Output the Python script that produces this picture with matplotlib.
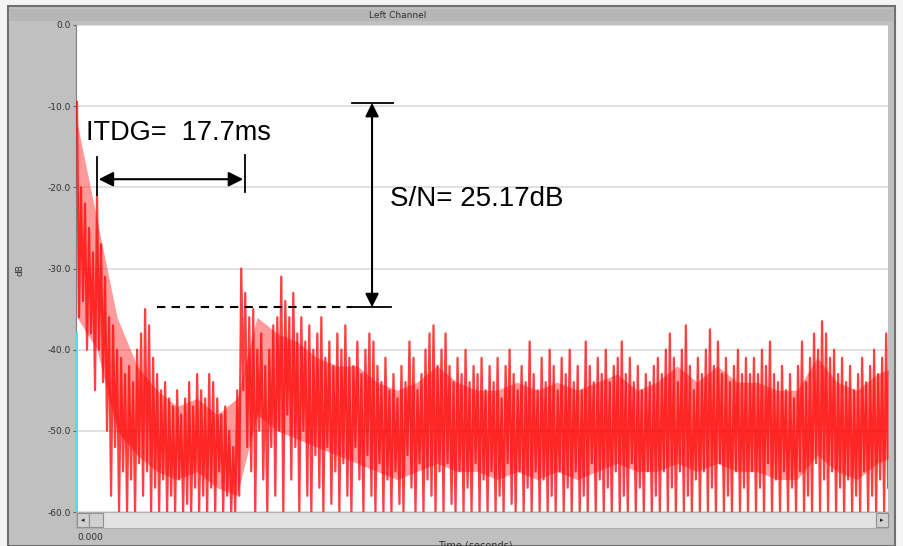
import matplotlib.pyplot as plt
import matplotlib.patches as patches
import numpy as np

# impulse response envelope (dB)
# one peak and one trough per ~0.48 ms step
peak_db = [
    -9.5, -20, -22, -25, -28, -21, -27, -31, -36, -37,
    -40, -41, -43, -42, -44, -40, -38, -35, -37, -41,
    -43, -45, -44, -46, -47, -45, -48, -46, -44, -47,
    -43, -45, -46, -43, -44, -46, -48, -47, -50, -52,
    -45, -30, -33, -36, -35, -40, -38, -42, -40, -37,
    -36, -31, -34, -36, -33, -38, -36, -39, -37, -40,
    -38, -36, -41, -39, -42, -38, -40, -37, -41, -42,
    -39, -43, -40, -38, -39, -42, -44, -41, -45, -43,
    -46, -42, -44, -39, -41, -45, -43, -40, -38, -37,
    -42, -40, -38, -42, -44, -41, -43, -40, -44, -42,
    -43, -41, -45, -42, -44, -41, -46, -42, -40, -43,
    -45, -42, -44, -39, -43, -45, -41, -44, -40, -42,
    -45, -41, -43, -40, -44, -42, -45, -39, -42, -44,
    -41, -43, -40, -44, -42, -41, -39, -43, -41, -44,
    -42, -45, -43, -44, -42, -41, -43, -40, -38, -41,
    -44, -40, -37, -42, -45, -41, -43, -40, -37.5, -42,
    -39, -43, -41, -44, -42, -40, -43, -41, -43, -41,
    -43, -40, -42, -39, -43, -44, -42, -45, -43, -46,
    -42, -39, -44, -41, -38, -40, -36.5, -38, -41, -40,
    -43, -41, -44, -42, -45, -43, -41, -44, -42, -40,
    -43, -41, -38,
]
trough_db = [
    -36, -34, -40, -38, -45, -40, -44, -50, -58, -52,
    -60, -55, -60, -56, -60, -54, -58, -55, -60, -57,
    -60, -56, -60, -58, -60, -56, -60, -59, -60, -57,
    -60, -58, -60, -57, -60, -55, -60, -58, -60, -60,
    -58, -45, -52, -55, -60, -50, -56, -60, -52, -58,
    -50, -60, -48, -56, -52, -60, -50, -58, -60, -53,
    -57, -60, -52, -59, -55, -60, -54, -58, -60, -52,
    -56, -60, -53, -58, -60, -54, -60, -56, -60, -55,
    -59, -60, -53, -57, -60, -54, -60, -56, -58, -60,
    -55, -60, -54, -59, -60, -55, -60, -57, -60, -54,
    -60, -56, -60, -55, -60, -58, -60, -54, -59, -60,
    -55, -60, -57, -60, -55, -60, -56, -60, -58, -60,
    -55, -60, -57, -60, -55, -60, -58, -60, -54, -60,
    -56, -60, -57, -60, -55, -60, -58, -60, -54, -60,
    -57, -60, -55, -60, -58, -60, -55, -60, -57, -60,
    -55, -60, -58, -60, -56, -60, -55, -60, -57, -60,
    -54, -60, -58, -60, -55, -60, -57, -60, -55, -60,
    -57, -60, -54, -60, -56, -60, -55, -60, -57, -60,
    -55, -60, -58, -60, -54, -60, -56, -60, -55, -60,
    -57, -60, -56, -60, -58, -60, -55, -60, -58, -60,
    -56, -60, -57,
]
step_s = 0.000479          # spacing of the peaks (s)
t0_s = 0.00012

# dense core of the trace (where the strokes overlap), every ~2.4 ms
core_top_db = [
    -12, -24, -36, -42, -45, -47, -46, -48, -46, -36,
    -38, -39, -41, -42, -42, -44, -45, -44, -42, -44,
    -45, -45, -44, -45, -44, -45, -44, -43, -45, -44,
    -42, -44, -42, -44, -44, -45, -45, -41, -44, -45,
    -43, -42,
]
core_bot_db = [
    -36, -40, -50, -53, -55, -56, -55, -57, -58, -48,
    -50, -51, -52, -53, -54, -55, -56, -55, -54, -55,
    -55, -56, -55, -56, -55, -56, -55, -54, -55, -55,
    -54, -55, -54, -55, -55, -56, -56, -53, -55, -56,
    -54, -53,
]
core_step_s = 0.002392

yticks = [0, -10, -20, -30, -40, -50, -60]
ytick_labels = ['0.0', '-10.0', '-20.0', '-30.0', '-40.0', '-50.0', '-60.0']

itdg_ms = 17.7
itdg_start_s = 0.0025
sn_db = 25.17
sn_top_db = -9.6
sn_x_s = 0.0354
floor_db = sn_top_db - sn_db

W, H = 904, 546
fig = plt.figure(figsize=(W / 100, H / 100), dpi=100)
fig.patch.set_facecolor('#f4f4f4')

def fx(px):
    return px / W

def fy(py):
    return 1 - py / H

# gray window panel
fig.patches.append(patches.Rectangle((fx(8), fy(546)), fx(887), fy(6) - fy(546),
                                     transform=fig.transFigure, facecolor='#c0c0c0',
                                     edgecolor='#707070', lw=1.5, zorder=-2))
fig.patches.append(patches.Rectangle((fx(10), fy(21)), fx(883), fy(9) - fy(21),
                                     transform=fig.transFigure, facecolor='#b6b6b6',
                                     edgecolor='none', zorder=-1))
fig.text(fx(398), fy(15), 'Left Channel', fontsize=6.5, color='#303030',
         ha='center', va='center')

ax = fig.add_axes([fx(76), fy(512), fx(888 - 76), fy(25) - fy(512)])
ax.set_zorder(1)
ax.set_facecolor('white')

n = len(peak_db)
t_peak = t0_s + np.arange(n) * step_s
t_trough = t_peak + step_s / 2
t = np.empty(2 * n)
v = np.empty(2 * n)
t[0::2] = t_peak
t[1::2] = t_trough
v[0::2] = peak_db
v[1::2] = trough_db

t_core = t0_s + np.arange(len(core_top_db)) * core_step_s
ax.fill_between(t_core, core_bot_db, core_top_db, color='#ff2020', alpha=0.45,
                lw=0, zorder=2)
ax.plot(t, v, color='red', lw=1.6, alpha=0.75, zorder=3)
ax.plot([0.00005, 0.00005], [-38, -60], color='#40e0e8', lw=2, zorder=4)

ax.set_xlim(0, 0.0971)
ax.set_ylim(-60, 0)
ax.set_yticks(yticks)
ax.set_yticklabels(ytick_labels, fontsize=6.5, color='#303030')
ax.set_xticks([])
ax.grid(axis='y', color='#dcdcdc', lw=1.2)
ax.tick_params(axis='y', length=2, pad=2, colors='#606060', labelcolor='#303030')
for s in ['top', 'right', 'bottom']:
    ax.spines[s].set_visible(False)
ax.spines['left'].set_color('#808080')
ax.set_axisbelow(True)
fig.text(fx(20), fy(270), 'dB', fontsize=6.5, rotation=90, ha='center', va='center',
         color='#303030')

# ITDG annotation
t1 = itdg_start_s
t2 = itdg_start_s + itdg_ms / 1000
ax.plot([t1, t1], [-16.3, -21.0], color='black', lw=1.3, zorder=5)
ax.plot([t2, t2], [-16.0, -20.6], color='black', lw=1.3, zorder=5)
ax.annotate('', xy=(t1 + 0.0002, -19.0), xytext=(t2 - 0.0002, -19.0),
            arrowprops=dict(arrowstyle='<|-|>', color='black', lw=1.5,
                            mutation_scale=22, shrinkA=0, shrinkB=0), zorder=5)
ax.text(0.0012, -13.3, 'ITDG=  %.1fms' % itdg_ms, fontsize=19.5,
        family='Liberation Sans', va='center', ha='left', zorder=6)

# S/N annotation
ax.plot([0.0097, 0.0330], [floor_db, floor_db], color='black', lw=1.5,
        ls=(0, (4, 3)), zorder=5)
ax.plot([0.0330, 0.0377], [floor_db, floor_db], color='black', lw=1.3, zorder=5)
ax.plot([0.0330, 0.0379], [sn_top_db, sn_top_db], color='black', lw=1.3, zorder=5)
ax.annotate('', xy=(sn_x_s, sn_top_db), xytext=(sn_x_s, floor_db),
            arrowprops=dict(arrowstyle='<|-|>', color='black', lw=1.5,
                            mutation_scale=20, shrinkA=0, shrinkB=0), zorder=5)
ax.text(0.0376, -21.4, 'S/N= %.2fdB' % sn_db, fontsize=20,
        family='Liberation Sans', va='center', ha='left', zorder=6)

# scrollbar under the plot
fig.patches.append(patches.Rectangle((fx(76), fy(528)), fx(812), fy(512) - fy(528),
                                     transform=fig.transFigure, facecolor='#e2e2e2',
                                     edgecolor='#b0b0b0', lw=0.8, zorder=2))
for x0, w in [(77, 12), (89, 14), (876, 12)]:
    fig.patches.append(patches.Rectangle((fx(x0), fy(527)), fx(w), fy(513) - fy(527),
                                         transform=fig.transFigure, facecolor='#d0d0d0',
                                         edgecolor='#909090', lw=0.8, zorder=3))
fig.text(fx(83), fy(520), '◂', fontsize=5, ha='center', va='center', color='#202020')
fig.text(fx(882), fy(520), '▸', fontsize=5, ha='center', va='center', color='#202020')
fig.text(fx(90), fy(537), '0.000', fontsize=6.5, ha='center', va='center', color='#303030')
fig.text(fx(475), fy(540), 'Time (seconds)', fontsize=7, ha='center', va='top',
         color='#303030')

fig.savefig('out.png', dpi=100, facecolor=fig.get_facecolor())
